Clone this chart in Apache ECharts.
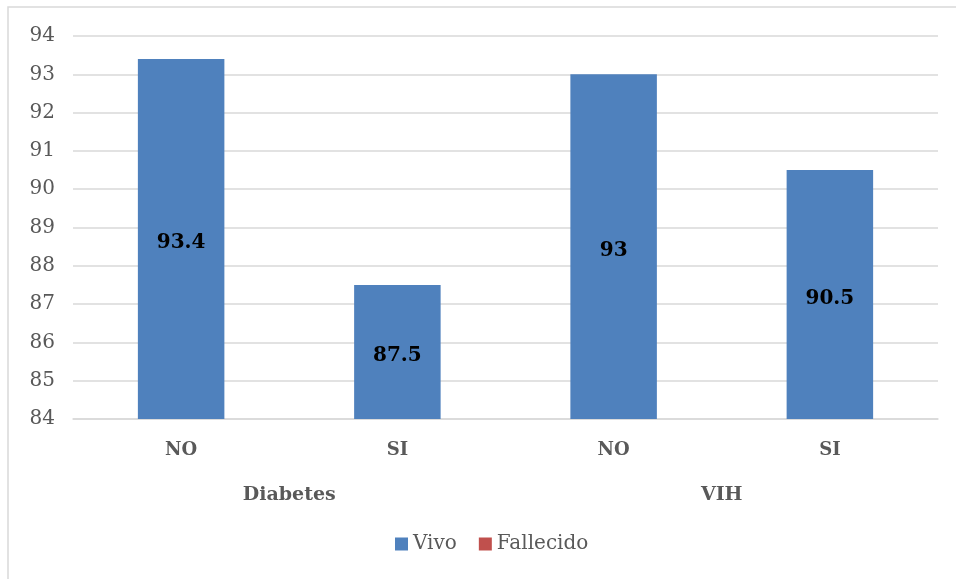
<!DOCTYPE html>
<html>
<head>
<meta charset="utf-8">
<script src="https://cdn.jsdelivr.net/npm/echarts@6/dist/echarts.min.js"></script>
<style>
  html, body { margin: 0; padding: 0; background: #fff; }
  #chart { width: 956px; height: 579px; }
</style>
</head>
<body>
<div id="chart"></div>
<script>
// Survival share by condition (%)
const categories = ['NO', 'SI', 'NO', 'SI'];
const groups = ['Diabetes', 'VIH'];
const vivo = [93.4, 87.5, 93, 90.5];
const fallecido = [null, null, null, null];
const yTicks = { min: 84, max: 94, interval: 1 };

const serif = '"DejaVu Serif", "Liberation Serif", serif';
const grey = '#595959';

const chart = echarts.init(document.getElementById('chart'));
chart.setOption({
  animation: false,
  textStyle: { fontFamily: serif },
  graphic: [{
    type: 'rect',
    shape: { x: 8, y: 7, width: 960, height: 600 },
    style: { fill: 'none', stroke: '#d9d9d9', lineWidth: 1.5 },
    silent: true
  }],
  grid: { left: 73, right: 18, top: 36, bottom: 160, containLabel: false },
  legend: {
    bottom: 20,
    left: 390,
    itemWidth: 13,
    itemHeight: 13,
    itemGap: 22,
    icon: 'rect',
    textStyle: { fontFamily: 'DejaVu Serif', fontSize: 20, color: grey },
    data: ['Vivo', 'Fallecido']
  },
  xAxis: [{
    type: 'category',
    data: categories,
    position: 'bottom',
    axisLine: { show: true, lineStyle: { color: '#d9d9d9', width: 1.5 } },
    axisTick: { show: false },
    axisLabel: { fontFamily: serif, fontSize: 18, fontWeight: 'bold', color: grey, margin: 22 }
  }, {
    type: 'category',
    data: groups,
    position: 'bottom',
    offset: 0,
    axisLine: { show: false },
    axisTick: { show: false },
    axisLabel: { fontFamily: serif, fontSize: 19, fontWeight: 'bold', color: grey, margin: 67 }
  }],
  yAxis: {
    type: 'value',
    min: yTicks.min,
    max: yTicks.max,
    interval: yTicks.interval,
    axisLine: { show: false },
    axisTick: { show: false },
    axisLabel: { fontFamily: serif, fontSize: 20, color: grey, margin: 18 },
    splitLine: { lineStyle: { color: '#d9d9d9', width: 1.5 } }
  },
  series: [{
    name: 'Vivo',
    type: 'bar',
    data: vivo,
    barWidth: '40%',
    barGap: '-100%',
    itemStyle: { color: '#4f81bd' },
    label: {
      show: true,
      position: 'inside',
      offset: [0, 4],
      fontFamily: serif,
      fontSize: 20,
      fontWeight: 'bold',
      color: '#000'
    }
  }, {
    name: 'Fallecido',
    type: 'bar',
    data: fallecido,
    barWidth: '40%',
    itemStyle: { color: '#c0504d' }
  }]
});
</script>
</body>
</html>
